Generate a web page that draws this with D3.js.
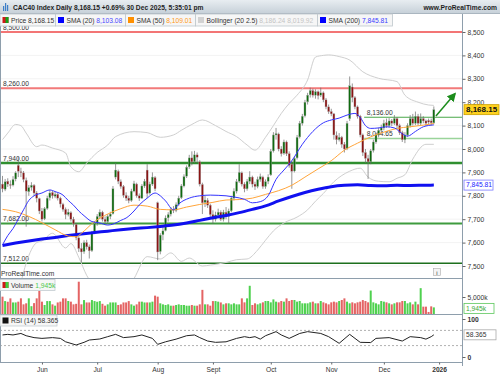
<!DOCTYPE html>
<html>
<head>
<meta charset="utf-8">
<script src="https://cdn.jsdelivr.net/npm/d3@7"></script>
<style>
  body { margin: 0; background: #fff; }
  svg { display: block; }
  text { font-family: "Liberation Sans", Arial, sans-serif; font-size: 6.7px; fill: #333; }
</style>
</head>
<body>
<div id="chart"></div>
<script>
// CAC40 daily, 12 May 2025 - 30 Dec 2025 (ProRealTime style)

// - - - data - - -
const holidays = ['2025-12-25', '2025-12-26', '2026-01-01'];
const monthLabels = ['Jun', 'Jul', 'Aug', 'Sept', 'Oct', 'Nov', 'Dec', '2026'];
const priceTicks = [7500, 7600, 7700, 7800, 7900, 8000, 8100, 8200, 8300, 8400, 8500];

const opens = [
  7850,7828,7862,7848,7846,7872,7930,7903,7898,7866, 7818,7836,7845,7812,7788,7735,7702,7746,7792,7814,
  7798,7806,7790,7764,7742,7720,7728,7700,7678,7620, 7575,7562,7600,7582,7566,7642,7680,7712,7730,7700,
  7690,7712,7724,7880,7905,7860,7840,7802,7790,7780, 7820,7850,7800,7790,7842,7910,7812,7850,7878,7770,
  7562,7634,7652,7706,7722,7742,7738,7764,7792,7842, 7884,7924,7962,7946,7975,7945,7848,7772,7780,7760,
  7720,7700,7718,7730,7700,7730,7712,7736,7790,7820, 7862,7898,7850,7830,7862,7880,7850,7840,7870,7880,
  7840,7862,7890,7992,8060,8064,8000,7982,8030,7980, 7935,7906,7962,8052,8110,8142,8202,8232,8250,8230,
  8245,8230,8240,8210,8180,8160,8150,8058,8040,8050, 8020,8002,8130,8265,8220,8180,8140,8060,7985,7960,
  7946,7994,8030,8060,8080,8090,8112,8100,8120,8110, 8130,8100,8070,8040,8060,8100,8130,8110,8140,8110,
  8130,8120,8122,8120,8112
];
const highs = [
  7885,7872,7875,7866,7884,7905,7966,7920,7906,7878, 7846,7858,7850,7820,7792,7748,7752,7800,7825,7822,
  7818,7812,7796,7770,7750,7744,7734,7710,7684,7630, 7598,7610,7612,7592,7650,7690,7722,7742,7736,7712,
  7722,7732,7842,7940,7912,7870,7846,7815,7800,7830, 7864,7856,7810,7850,7872,7935,7860,7900,7884,7775,
  7640,7668,7716,7730,7752,7756,7772,7800,7850,7892, 7930,7975,7990,7992,7985,7952,7856,7800,7790,7766,
  7738,7732,7745,7738,7740,7752,7745,7800,7832,7872, 7935,7904,7858,7872,7905,7886,7860,7882,7895,7886,
  7870,7892,8000,8072,8090,8070,8012,8040,8036,7990, 7950,7970,8060,8120,8150,8210,8240,8262,8258,8255,
  8250,8262,8246,8218,8190,8172,8154,8075,8068,8056, 8030,8120,8310,8280,8226,8186,8146,8066,8000,7975,
  8000,8040,8070,8092,8104,8125,8130,8132,8128,8145, 8136,8108,8078,8072,8110,8145,8150,8160,8150,8152,
  8140,8126,8130,8130,8182
];
const lows = [
  7815,7820,7838,7830,7840,7862,7880,7880,7858,7668, 7800,7822,7800,7772,7722,7690,7696,7740,7780,7788,
  7790,7780,7750,7732,7700,7712,7690,7668,7610,7560, 7515,7552,7570,7532,7560,7636,7672,7700,7690,7676,
  7680,7700,7720,7870,7850,7830,7792,7778,7768,7774, 7815,7792,7778,7786,7834,7790,7805,7842,7820,7525,
  7550,7610,7648,7690,7712,7726,7730,7756,7786,7836, 7876,7915,7930,7940,7940,7840,7722,7752,7748,7702,
  7680,7690,7705,7692,7690,7700,7682,7730,7780,7810, 7855,7840,7815,7822,7850,7836,7825,7832,7860,7830,
  7830,7850,7885,7985,8040,7990,7968,7975,7970,7920, 7830,7900,7955,8045,8100,8135,8190,8220,8220,8215,
  8212,8222,8200,8170,8150,8140,8040,8020,8032,8005, 7985,7995,8120,8200,8170,8130,8050,7970,7940,7872,
  7935,7985,8022,8050,8070,8080,8090,8092,8098,8102, 8090,8060,8030,8025,8052,8092,8100,8102,8100,8102,
  8110,8098,8104,8100,8106
];
const closes = [
  7830,7860,7850,7845,7870,7898,7905,7900,7870,7820, 7835,7845,7812,7790,7735,7700,7745,7790,7812,7800,
  7806,7790,7765,7742,7720,7730,7700,7680,7622,7575, 7560,7600,7582,7565,7640,7680,7712,7730,7700,7690,
  7712,7722,7830,7910,7862,7840,7802,7790,7780,7820, 7852,7800,7790,7842,7862,7810,7850,7880,7830,7560,
  7632,7650,7705,7720,7742,7738,7762,7790,7842,7882, 7922,7962,7945,7975,7965,7850,7770,7782,7760,7720,
  7700,7718,7730,7700,7730,7712,7735,7790,7820,7860, 7900,7850,7830,7862,7880,7850,7840,7870,7882,7840,
  7860,7880,7990,8060,8066,8000,7980,8030,7980,7930, 7905,7960,8050,8110,8140,8200,8230,8250,8230,8245,
  8228,8240,8210,8180,8160,8150,8060,8040,8050,8020, 8000,8110,8270,8220,8180,8140,8060,7985,7960,7945,
  7992,8030,8060,8080,8090,8110,8100,8120,8110,8130, 8100,8070,8040,8060,8100,8130,8110,8140,8110,8130,
  8120,8110,8115,8112,8168.15
];
// volume in thousands
const volumes = [
  5100,3800,3600,4600,3400,3400,3630,4610,2840,3140, 4610,2300,3200,4600,6800,3630,2650,3800,3800,2840,
  2450,3400,3630,4600,4600,3820,3630,2840,3000,9500, 2840,4100,3400,3400,4100,3800,3600,3800,3000,2450,
  2840,3400,3400,3400,2650,2840,3400,3400,3800,2840, 2450,2840,3630,3630,3400,3400,3400,3630,5400,5100,
  3140,2840,2650,2840,2450,2450,2650,2840,2650,2650, 2450,2450,2650,2450,2450,2840,7100,2840,2840,2450,
  3800,3800,3630,3400,2840,3140,3140,2840,3140,2840, 2840,4600,3430,4600,8300,2650,3140,2840,3140,3430,
  3820,3820,3430,4300,3630,3430,3820,3630,4600,3820, 4120,4120,3630,3820,3140,3140,3140,3430,3630,3140,
  3140,3820,3430,3140,2840,3430,3630,3430,3820,4120, 4600,3630,3140,3430,3140,3430,3630,4100,3820,3430,
  6900,3430,3140,2840,3820,3630,3430,3140,2840,3140, 3430,3430,3820,3820,3140,3430,2840,3630,2840,7600,
  2160,2160,600,2250,1945
];

// indicator readings: [day index, value]
const sma20 = [[0,7590],[2,7630],[4,7660],[6,7700],[8,7740],[10,7780],[12,7800],[15,7812],[18,7825],[20,7818],
  [23,7803],[25,7780],[27,7760],[29,7735],[31,7715],[34,7690],[37,7684],[40,7675],[42,7679],[45,7695],[47,7705],
  [50,7735],[52,7761],[55,7790],[58,7812],[60,7800],[62,7778],[65,7740],[67,7765],[71,7790],[75,7800],[79,7803],
  [82,7802],[85,7800],[88,7795],[92,7785],[95,7770],[98,7775],[101,7800],[104,7870],[107,7910],[110,7950],
  [114,8020],[118,8075],[122,8112],[125,8124],[128,8132],[131,8145],[134,8152],[136,8135],[138,8100],[140,8088],
  [143,8090],[146,8095],[149,8090],[152,8065],[154,8055],[157,8075],[160,8095],[164,8103.08]];
const sma50 = [[0,7742],[5,7732],[10,7712],[15,7685],[20,7655],[25,7628],[28,7625],[30,7640],[35,7690],[40,7722],
  [45,7745],[50,7760],[55,7756],[60,7742],[65,7740],[70,7752],[75,7763],[80,7772],[85,7782],[90,7784],[95,7790],
  [100,7806],[105,7822],[110,7845],[115,7880],[120,7915],[125,7950],[130,7995],[135,8025],[140,8052],[145,8072],
  [150,8088],[155,8095],[160,8102],[164,8109.01]];
const sma200 = [[0,7588],[5,7598],[10,7607],[15,7615],[20,7622],[25,7630],[30,7637],[35,7643],[40,7649],[45,7655],
  [50,7660],[55,7664],[60,7669],[65,7675],[70,7684],[75,7695],[80,7706],[85,7716],[90,7728],[95,7742],[100,7757],
  [105,7778],[110,7797],[115,7814],[120,7828],[125,7839],[130,7845],[135,7847],[140,7844],[145,7843],[150,7845],
  [155,7844],[160,7845],[164,7845.81]];
const bollUp = [[0,8040],[2,8068],[5,8105],[7,8100],[9,8068],[13,8010],[15,8017],[19,8004],[24,7983],[26,7924],
  [29,7903],[32,7940],[36,7985],[40,8017],[43,8053],[50,8074],[55,8070],[60,8050],[65,8060],[68,8080],[72,8105],
  [76,8124],[81,8100],[85,8075],[89,8053],[93,8017],[96,7995],[100,8050],[103,8100],[106,8152],[109,8195],
  [112,8230],[116,8295],[119,8393],[122,8400],[124,8402],[128,8395],[132,8380],[137,8330],[143,8302],[150,8288],
  [153,8230],[158,8200],[162,8188],[164,8186.24]];
const bollLow = [[0,7140],[2,7212],[5,7345],[7,7430],[9,7512],[13,7600],[15,7607],[19,7640],[24,7577],[26,7596],
  [29,7537],[32,7460],[36,7400],[40,7347],[43,7327],[50,7446],[55,7540],[60,7530],[64,7556],[68,7520],[71,7534],
  [76,7500],[79,7504],[85,7515],[89,7527],[93,7530],[97,7568],[100,7610],[103,7650],[107,7684],[112,7709],
  [116,7740],[119,7777],[122,7810],[126,7860],[132,7905],[136,7918],[139,7880],[143,7862],[147,7860],[150,7875],
  [153,7890],[156,7957],[161,8020],[164,8019.92]];
const rsi = [[0,58],[2,59.6],[4,58],[7,62],[9,56],[12,51],[15,49],[19,51],[22,49],[24,40],[28,31.6],[31,38.6],
  [33,44.7],[37,47.4],[40,53.5],[43,59.6],[46,51],[50,53.5],[53,58],[57,49],[59,33.3],[62,40],[66,47],[70,56],
  [73,58],[75,51],[78,42],[81,38.6],[85,40],[89,49],[92,53.5],[94,51],[96,53.5],[98,47],[100,56],[104,66.7],
  [106,58],[109,49],[113,62],[116,66.7],[121,62],[124,53.5],[128,36],[132,59.6],[136,38.6],[140,38],[142,49],
  [147,51],[152,42],[155,53.5],[159,51],[161,47],[163,53.5],[164,58.365]];

const redLevels = [8500, 8260];
const greenLevels = [7940, 7682, 7512];
const shortLevels = [8136, 8044.65];
const arrowFrom = [164.8, 8141], arrowTo = [172, 8236];

// - - - scales - - -
const fmtDay = d3.timeFormat('%Y-%m-%d');
const days = d3.timeDay.range(new Date(2025, 4, 12), new Date(2026, 0, 3))
  .filter(d => d.getDay() % 6 !== 0 && !holidays.includes(fmtDay(d)));
const monthStarts = d3.range(1, days.length).filter(i => days[i].getMonth() !== days[i - 1].getMonth());

const x = d3.scaleLinear().domain([0, days.length - 1]).range([2.5, 439.1]);
const y = d3.scaleLinear().domain([7500, 8500]).range([266, 32]);
const yVol = d3.scaleLinear().domain([0, 5000]).range([314, 297]);
const yRsi = d3.scaleLinear().domain([0, 100]).range([357, 319]);
const fmt2 = d3.format(',.2f');

const svg = d3.select('#chart').append('svg').attr('width', 500).attr('height', 375);
const defs = svg.append('defs');
const grad = defs.append('linearGradient').attr('id', 'bar').attr('x1', 0).attr('y1', 0).attr('x2', 0).attr('y2', 1);
grad.append('stop').attr('offset', 0).attr('stop-color', '#e8edf1');
grad.append('stop').attr('offset', 1).attr('stop-color', '#c7d1d9');
defs.append('clipPath').attr('id', 'clipPrice').append('rect').attr('x', 0).attr('y', 26).attr('width', 462).attr('height', 252);
defs.append('clipPath').attr('id', 'clipVol').append('rect').attr('x', 0).attr('y', 278).attr('width', 462).attr('height', 36);
defs.append('marker').attr('id', 'arrowHead').attr('viewBox', '0 0 10 10').attr('refX', 8).attr('refY', 5)
  .attr('markerWidth', 6).attr('markerHeight', 6).attr('orient', 'auto')
  .append('path').attr('d', 'M0,0L10,5L0,10z').attr('fill', '#1c8c1c');

// - - - price panel - - -
const price = svg.append('g').attr('clip-path', 'url(#clipPrice)');

price.selectAll('line.grid').data(priceTicks).join('line').attr('class', 'grid')
  .attr('x1', 0).attr('x2', 462).attr('y1', d => y(d)).attr('y2', d => y(d))
  .attr('stroke', '#f3f3f3');

price.selectAll('line.red').data(redLevels).join('line').attr('class', 'red')
  .attr('x1', 0).attr('x2', 462).attr('y1', d => y(d)).attr('y2', d => y(d))
  .attr('stroke', (d, i) => i ? '#f27a7a' : '#f04848').attr('stroke-width', (d, i) => i ? 2 : 1.4);
price.selectAll('line.green').data(greenLevels).join('line').attr('class', 'green')
  .attr('x1', 0).attr('x2', 462).attr('y1', d => y(d)).attr('y2', d => y(d))
  .attr('stroke', (d, i) => ['#2f8f2f', '#3f9b3f', '#1d6f1d'][i]).attr('stroke-width', (d, i) => [2.4, 2, 1.5][i]);
price.selectAll('text.lvl').data(redLevels.concat(greenLevels)).join('text').attr('class', 'lvl')
  .attr('x', 3).attr('y', d => y(d) - 2.5).text(d => fmt2(d));

price.selectAll('line.short').data(shortLevels).join('line').attr('class', 'short')
  .attr('x1', x(137.5)).attr('x2', 462).attr('y1', d => y(d)).attr('y2', d => y(d))
  .attr('stroke', (d, i) => i ? '#9ad49a' : '#4aa84a').attr('stroke-width', (d, i) => i ? 1.6 : 1.1);
price.selectAll('text.short').data(shortLevels).join('text').attr('class', 'short')
  .attr('x', x(138.5)).attr('y', d => y(d) - 2.5).text(d => fmt2(d));

const line = d3.line().x(d => x(d[0])).y(d => y(d[1])).curve(d3.curveMonotoneX);
price.selectAll('path.boll').data([bollUp, bollLow]).join('path').attr('class', 'boll')
  .attr('d', line).attr('fill', 'none').attr('stroke', '#cfcfcf').attr('stroke-width', 1);

// candles
const idx = d3.range(closes.length);
const up = i => closes[i] >= opens[i];
price.selectAll('line.wick').data(idx).join('line').attr('class', 'wick')
  .attr('x1', i => x(i)).attr('x2', i => x(i)).attr('y1', i => y(highs[i])).attr('y2', i => y(lows[i]))
  .attr('stroke', '#6a6a6a').attr('stroke-width', 0.7);
price.selectAll('rect.body').data(idx).join('rect').attr('class', 'body')
  .attr('x', i => x(i) - 1).attr('width', 2)
  .attr('y', i => y(Math.max(opens[i], closes[i])))
  .attr('height', i => Math.max(0.8, Math.abs(y(opens[i]) - y(closes[i]))))
  .attr('fill', i => up(i) ? '#0f6a0f' : '#8a1414')
  .attr('stroke', '#b0b0b0').attr('stroke-width', 0.35);

price.append('path').datum(sma200).attr('d', line).attr('fill', 'none').attr('stroke', '#1010f0').attr('stroke-width', 3);
price.append('path').datum(sma50).attr('d', line).attr('fill', 'none').attr('stroke', '#ffa53a').attr('stroke-width', 1);
price.append('path').datum(sma20).attr('d', line).attr('fill', 'none').attr('stroke', '#3535ff').attr('stroke-width', 1);

price.append('line')
  .attr('x1', x(arrowFrom[0])).attr('y1', y(arrowFrom[1])).attr('x2', x(arrowTo[0])).attr('y2', y(arrowTo[1]))
  .attr('stroke', '#1c8c1c').attr('stroke-width', 1.5).attr('marker-end', 'url(#arrowHead)');

svg.append('text').attr('x', 1).attr('y', 275.5).text('ProRealTime.com');
svg.append('rect').attr('x', 433.5).attr('y', 268.5).attr('width', 7).attr('height', 7)
  .attr('fill', '#f4f4f4').attr('stroke', '#aaa').attr('stroke-width', 0.6);
svg.append('text').attr('x', 437).attr('y', 274.5).attr('text-anchor', 'middle').style('font-size', '6px').text('i');

// - - - volume panel - - -
const vol = svg.append('g').attr('clip-path', 'url(#clipVol)');
vol.selectAll('rect').data(idx).join('rect')
  .attr('x', i => x(i) - 1).attr('width', 2)
  .attr('y', i => yVol(volumes[i])).attr('height', i => yVol(0) - yVol(volumes[i]))
  .attr('fill', i => up(i) ? '#4fd14f' : '#e46464');

// - - - RSI panel - - -
svg.selectAll('line.rsiLvl').data([70, 30]).join('line').attr('class', 'rsiLvl')
  .attr('x1', 0).attr('x2', 462).attr('y1', d => yRsi(d)).attr('y2', d => yRsi(d))
  .attr('stroke', '#9a9a9a').attr('stroke-width', 0.8).attr('stroke-dasharray', '2,2');
svg.append('path').datum(rsi)
  .attr('d', d3.line().x(d => x(d[0])).y(d => yRsi(d[1])))
  .attr('fill', 'none').attr('stroke', '#222').attr('stroke-width', 1);

// - - - frames and axes - - -
const frame = '#8e9eac';
svg.selectAll('line.sep').data([278, 314, 362]).join('line').attr('class', 'sep')
  .attr('x1', 0).attr('x2', 462).attr('y1', d => d + 0.5).attr('y2', d => d + 0.5).attr('stroke', frame);
svg.append('line').attr('x1', 0.5).attr('x2', 0.5).attr('y1', 26).attr('y2', 362).attr('stroke', frame);
svg.append('line').attr('x1', 462.5).attr('x2', 462.5).attr('y1', 13).attr('y2', 366).attr('stroke', frame);

const styleAxis = g => {
  g.select('.domain').remove();
  g.selectAll('.tick line').attr('stroke', '#666');
  g.selectAll('.tick text').attr('fill', '#333').style('font-size', '6.7px').attr('font-family', null);
};
svg.append('g').attr('transform', 'translate(462.5,0)')
  .call(d3.axisRight(y).tickValues(priceTicks).tickSize(3).tickPadding(2).tickFormat(d3.format(',')))
  .call(styleAxis);
svg.append('g').attr('transform', 'translate(462.5,0)')
  .call(d3.axisRight(yVol).tickValues([5000]).tickSize(3).tickPadding(2).tickFormat(d => d3.format(',')(d) + 'k'))
  .call(styleAxis);
svg.append('g').attr('transform', 'translate(462.5,0)')
  .call(d3.axisRight(yRsi).tickValues([0, 100]).tickSize(3).tickPadding(2))
  .call(styleAxis)
  .selectAll('.tick text').style('font-weight', 'bold');
svg.append('g').attr('transform', 'translate(0,362.5)')
  .call(d3.axisBottom(x).tickValues(monthStarts).tickSize(2).tickPadding(3).tickFormat((d, i) => monthLabels[i]))
  .call(styleAxis)
  .selectAll('.tick text').style('font-weight', (d, i) => i === monthLabels.length - 1 ? 'bold' : null);

// value badges on the right axis
const last = closes.length - 1;
const badge = (val, yy, w, fill, stroke, color, bold) => {
  svg.append('rect').attr('x', 464).attr('y', yy - 5).attr('width', w).attr('height', 10)
    .attr('fill', fill).attr('stroke', stroke).attr('stroke-width', 0.8);
  svg.append('text').attr('x', 466).attr('y', yy + 2.4).text(val)
    .style('fill', color).style('font-weight', bold ? 'bold' : null).style('font-size', bold ? '8px' : '6.7px');
};
badge(fmt2(sma200[sma200.length - 1][1]), y(sma200[sma200.length - 1][1]), 29, '#fff', '#7a7aff', '#2020ff', false);
badge(d3.format(',')(volumes[last]) + 'k', yVol(volumes[last]) + 1, 30, '#fff', '#5cc85c', '#36a836', false);
badge(d3.format('.3f')(rsi[rsi.length - 1][1]), yRsi(rsi[rsi.length - 1][1]), 32, '#fff', '#aaa', '#333', false);
badge(fmt2(closes[last]), y(closes[last]), 35, '#ffd21f', '#caa000', '#111', true);

// - - - header and legends - - -
svg.append('rect').attr('x', 0).attr('y', 0).attr('width', 500).attr('height', 13).attr('fill', 'url(#bar)');
svg.append('line').attr('x1', 0).attr('x2', 500).attr('y1', 13.5).attr('y2', 13.5).attr('stroke', '#aab6c0');
svg.selectAll('rect.icon').data([3, 5, 7]).join('rect').attr('class', 'icon')
  .attr('x', d => d).attr('y', (d, i) => [6, 3, 5][i]).attr('width', 1.2).attr('height', (d, i) => [5, 8, 6][i])
  .attr('fill', '#3d7fc8');
svg.append('text').attr('x', 13).attr('y', 9.5).style('font-weight', 'bold').style('fill', '#1e1e1e')
  .text('CAC40 Index Daily ' + fmt2(closes[last]) + ' +0.69% 30 Dec 2025, 5:35:01 pm');
svg.append('text').attr('x', 497).attr('y', 9.5).attr('text-anchor', 'end').style('font-weight', 'bold').style('fill', '#1e1e1e')
  .text('www.ProRealTime.com');

const legendItems = [
  { x0: 0, x1: 55.5, name: 'Price', vals: [fmt2(closes[last])], col: null, vcol: '#333' },
  { x0: 55.5, x1: 125.5, name: 'SMA (20)', vals: [fmt2(sma20[sma20.length - 1][1])], col: '#0000ff', vcol: '#4a4aff' },
  { x0: 125.5, x1: 195.5, name: 'SMA (50)', vals: [fmt2(sma50[sma50.length - 1][1])], col: '#ff9000', vcol: '#ff9a1a' },
  { x0: 195.5, x1: 317.5, name: 'Bollinger (20 2.5)', vals: [fmt2(bollUp[bollUp.length - 1][1]), fmt2(bollLow[bollLow.length - 1][1])], col: '#d2d2d2', vcol: '#c4c4c4' },
  { x0: 317.5, x1: 392.5, name: 'SMA (200)', vals: [fmt2(sma200[sma200.length - 1][1])], col: '#0000ff', vcol: '#3a3aff' }
];
const lg = svg.selectAll('g.legend').data(legendItems).join('g').attr('class', 'legend');
lg.append('rect').attr('x', d => d.x0).attr('y', 14).attr('width', d => d.x1 - d.x0).attr('height', 12)
  .attr('fill', '#f6f6f6').attr('stroke', '#bfc7cd').attr('stroke-width', 0.8);
lg.append('rect').attr('x', d => d.x0 + 2.5).attr('y', 17).attr('width', 6).attr('height', 6)
  .attr('fill', d => d.col || '#d01818');
lg.filter(d => !d.col).append('rect').attr('x', d => d.x0 + 5.5).attr('y', 17).attr('width', 3).attr('height', 6).attr('fill', '#18a018');
lg.each(function (d) {
  const t = d3.select(this).append('text').attr('x', d.x0 + 11).attr('y', 22.6);
  t.append('tspan').text(d.name + ' ');
  d.vals.forEach(v => t.append('tspan').style('fill', d.vcol).text(' ' + v));
});

// volume & RSI legends
const sub = [
  { y0: 279.5, name: 'Volume', val: d3.format(',')(volumes[last]) + 'k', w: 55, vcol: '#4cc84c' },
  { y0: 315, name: 'RSI (14)', val: d3.format('.3f')(rsi[rsi.length - 1][1]), w: 57, vcol: '#333' }
];
sub.forEach((d, k) => {
  svg.append('rect').attr('x', 0).attr('y', d.y0).attr('width', d.w).attr('height', 11)
    .attr('fill', '#f6f6f6').attr('stroke', '#c4ccd2').attr('stroke-width', 0.8);
  svg.append('rect').attr('x', 2.5).attr('y', d.y0 + 2.5).attr('width', 6).attr('height', 6).attr('fill', k ? '#111' : '#d01818');
  if (!k) svg.append('rect').attr('x', 5.5).attr('y', d.y0 + 2.5).attr('width', 3).attr('height', 6).attr('fill', '#3ccf3c');
  const t = svg.append('text').attr('x', 11).attr('y', d.y0 + 8);
  t.append('tspan').text(d.name + ' ');
  t.append('tspan').style('fill', d.vcol).text(d.val);
});
</script>
</body>
</html>
